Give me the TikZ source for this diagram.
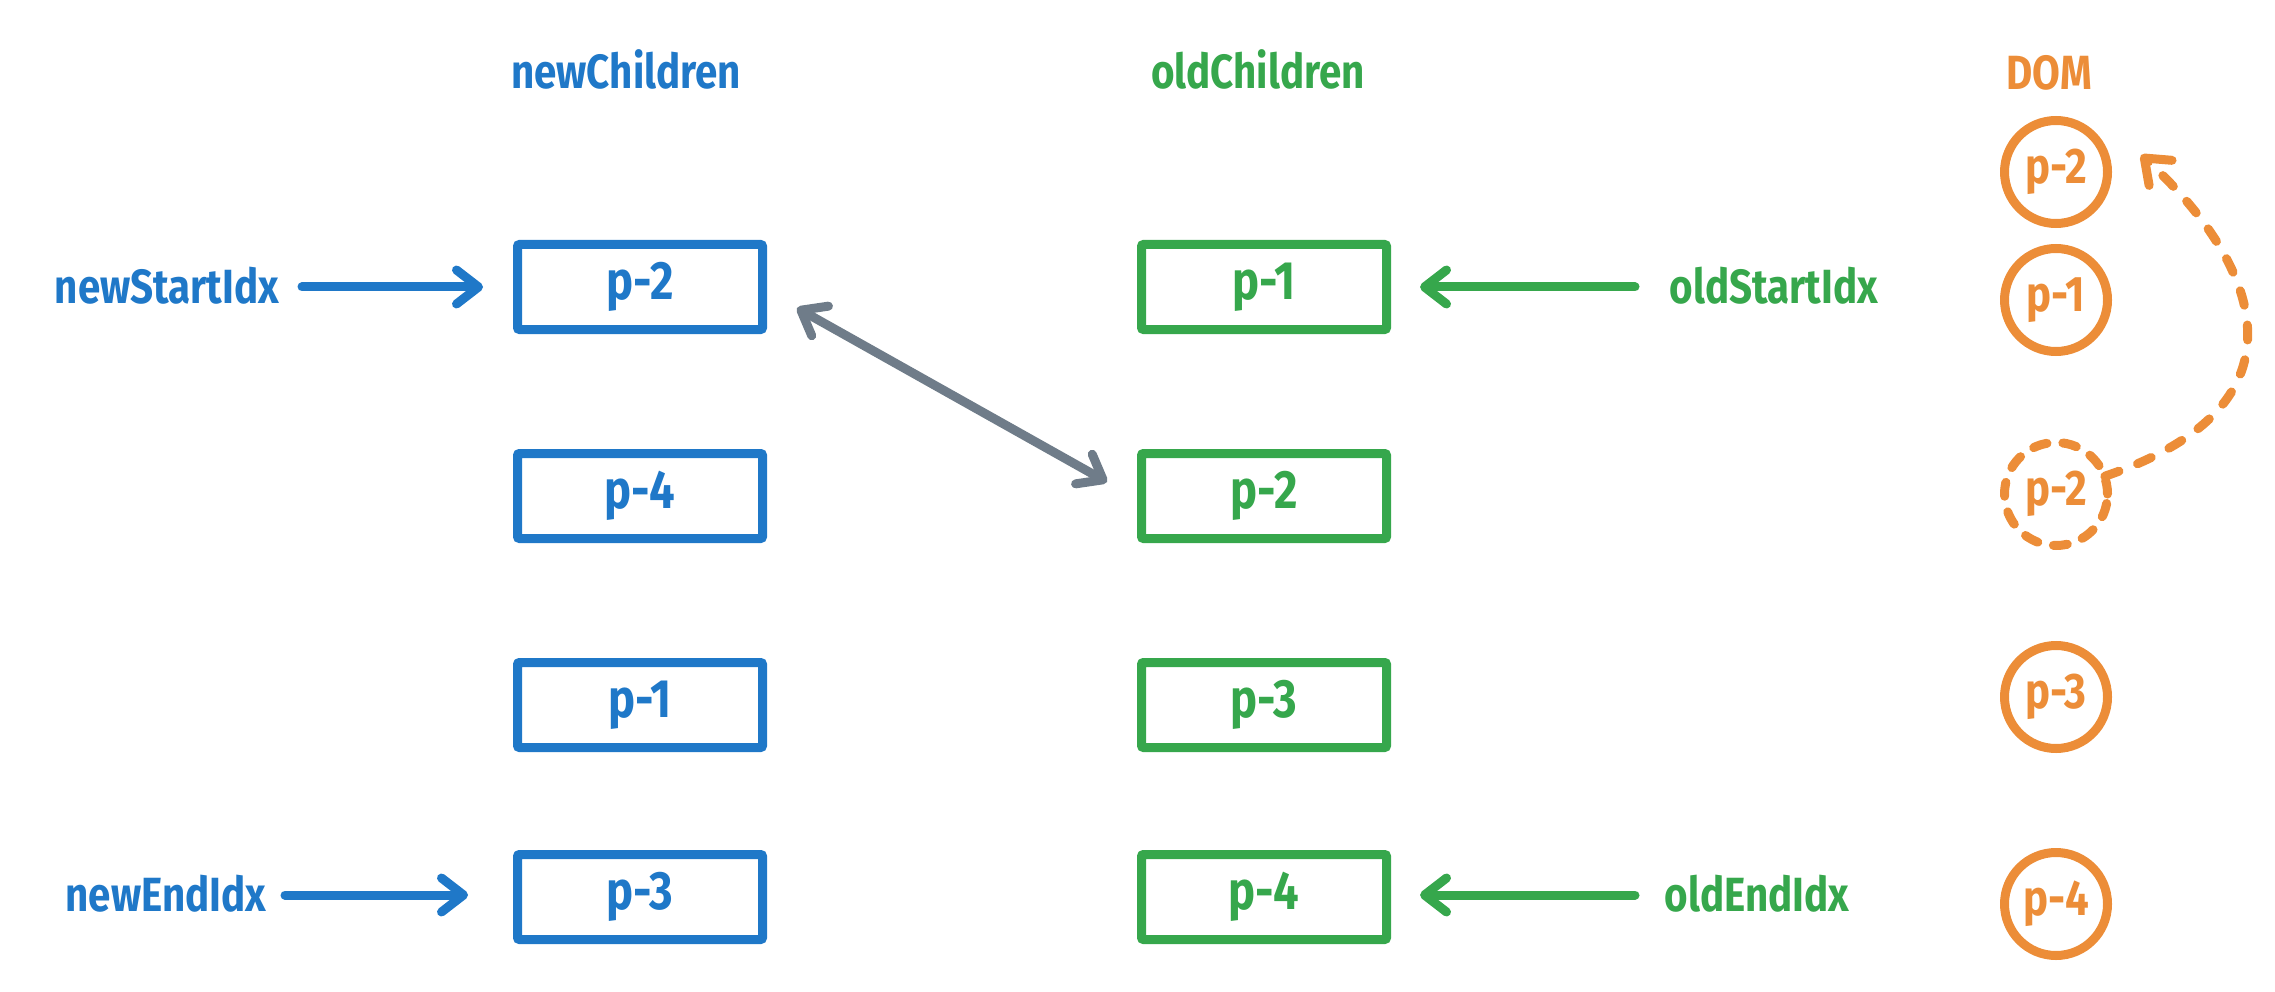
\documentclass[tikz,border=0pt]{standalone}
\usepackage{fontspec}
\setmainfont{Fira Sans}[FakeStretch=0.84]
\usetikzlibrary{arrows.meta,calc}
\definecolor{cblue}{RGB}{31,120,200}
\definecolor{cgreen}{RGB}{54,167,76}
\definecolor{corange}{RGB}{236,141,56}
\definecolor{cgray}{RGB}{111,124,137}
\begin{document}
\begin{tikzpicture}[x=1pt,y=-1pt,
  lbl/.style={font=\fontsize{48}{50}\selectfont\bfseries, inner sep=0pt, anchor=base},
  bx/.style={draw, line width=9pt, rounded corners=2pt, minimum width=245pt, minimum height=85pt, inner sep=0pt, font=\fontsize{54}{56}\selectfont\bfseries},
  dom/.style={draw=corange, text=corange, circle, line width=9pt, minimum size=103pt, inner sep=0pt, font=\fontsize{50}{52}\selectfont\bfseries},
  barb/.style={-{Straight Barb[round,length=22pt,width=34pt]}},
  idxarrow/.style={line width=9pt, line cap=round, barb}]
\useasboundingbox (0,0) rectangle (2275,992);
% titles
\node[lbl,text=cblue] (tnew) at (626,89) {newChildren};
\node[lbl,text=cgreen] (told) at (1258,89) {oldChildren};
\node[lbl,text=corange] (tdom) at (2049,90) {DOM};
% new children
\node[bx,draw=cblue,text=cblue] (n1) at (640,287) {p-2};
\node[bx,draw=cblue,text=cblue] (n2) at (640,496) {p-4};
\node[bx,draw=cblue,text=cblue] (n3) at (640,705) {p-1};
\node[bx,draw=cblue,text=cblue] (n4) at (640,897) {p-3};
% old children
\node[bx,draw=cgreen,text=cgreen] (o1) at (1264,287) {p-1};
\node[bx,draw=cgreen,text=cgreen] (o2) at (1264,496) {p-2};
\node[bx,draw=cgreen,text=cgreen] (o3) at (1264,705) {p-3};
\node[bx,draw=cgreen,text=cgreen] (o4) at (1264,897) {p-4};
% index labels
\node[lbl,text=cblue] (ns) at (167,303) {newStartIdx};
\node[lbl,text=cblue] (ne) at (166,911) {newEndIdx};
\node[lbl,text=cgreen] (os) at (1774,303) {oldStartIdx};
\node[lbl,text=cgreen] (oe) at (1757,911) {oldEndIdx};
% index arrows
\draw[idxarrow,draw=cblue] ($(n1.west)+(-211,0)$) -- ($(n1.west)+(-30,0)$);
\draw[idxarrow,draw=cblue] ($(n4.west)+(-228,-2)$) -- ($(n4.west)+(-45,-2)$);
\draw[idxarrow,draw=cgreen] ($(o1.east)+(244,0)$) -- ($(o1.east)+(29,0)$);
\draw[idxarrow,draw=cgreen] ($(o4.east)+(244,-2)$) -- ($(o4.east)+(29,-2)$);
% swap arrow
\draw[idxarrow,draw=cgray,{Straight Barb[round,length=22pt,width=34pt]}-{Straight Barb[round,length=22pt,width=34pt]}] ($(n1.east)+(30,21)$) -- ($(o2.west)+(-30,-14)$);
% DOM
\node[dom] (d1) at (2056,172) {p-2};
\node[dom] (d2) at (2056,300) {p-1};
\node[dom,dash pattern=on 14pt off 16pt,line cap=round] (d3) at (2056,494) {p-2};
\node[dom] (d4) at (2056,697) {p-3};
\node[dom] (d5) at (2056,904) {p-4};
\draw[idxarrow,draw=corange,dash pattern=on 15pt off 20pt] ($(d3.center)+(-20:52)$) .. controls (2330,400) and (2245,250) .. ($(d1.center)+(85,-17)$);
\end{tikzpicture}
\end{document}
